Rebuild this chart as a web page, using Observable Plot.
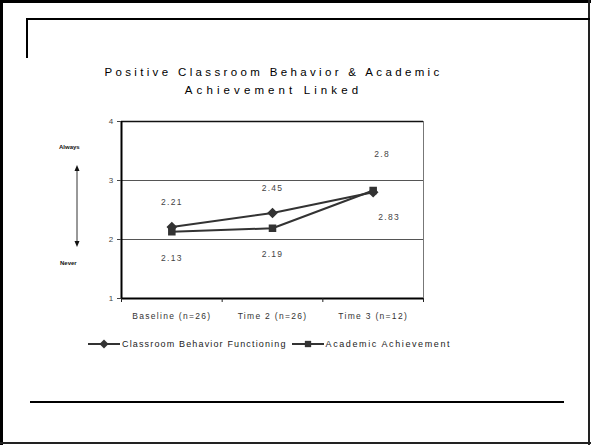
<!DOCTYPE html>
<html><head><meta charset="utf-8">
<script src="https://cdn.jsdelivr.net/npm/d3@7"></script>
<script src="https://cdn.jsdelivr.net/npm/@observablehq/plot@0.6"></script>
<style>
body{margin:0;width:591px;height:445px;position:relative;overflow:hidden;background:#fff;font-family:"Liberation Sans Narrow","Liberation Sans",Arial,sans-serif;}
.abs{position:absolute;}
#chart{position:absolute;left:0;top:0;}
#chart svg text{letter-spacing:1.3px;}
#title{left:0;width:547px;top:63px;text-align:center;font-size:11.5px;letter-spacing:3.35px;line-height:18px;color:#000;}
#title .l2{letter-spacing:4.1px;}
.side{font-family:"Liberation Sans",Arial,sans-serif;font-weight:bold;font-size:6px;color:#111;}
#legend{left:88px;top:339px;display:flex;align-items:center;font-size:9px;letter-spacing:1.15px;color:#222;white-space:nowrap;}
#legend .item{display:flex;align-items:center;margin-right:5px;}
#legend .item:nth-child(2) span{letter-spacing:1.6px;}
#legend svg{margin-right:2px;}
</style></head><body>
<div class="abs" style="left:0;top:0;width:591px;height:3px;background:#000"></div>
<div class="abs" style="left:0;top:0;width:3px;height:445px;background:#000"></div>
<div class="abs" style="left:588px;top:0;width:2px;height:445px;background:#222"></div>
<div class="abs" style="left:0;top:442px;width:591px;height:2px;background:#222"></div>
<div class="abs" style="left:26px;top:18px;width:564px;height:2px;background:#000"></div>
<div class="abs" style="left:26px;top:18px;width:2px;height:40px;background:#000"></div>
<div class="abs" style="left:30px;top:401px;width:534px;height:2px;background:#000"></div>
<div id="title" class="abs">Positive Classroom Behavior &amp; Academic<br><span class="l2">Achievement Linked</span></div>
<div class="abs side" style="left:59px;top:144px;">Always</div>
<div class="abs side" style="left:60px;top:260px;">Never</div>
<svg class="abs" style="left:72px;top:164px" width="10" height="84">
  <line x1="5" y1="5" x2="5" y2="79" stroke="#333" stroke-width="1"/>
  <path d="M5,1 L2.5,7 L7.5,7 Z" fill="#111"/>
  <path d="M5,83 L2.5,77 L7.5,77 Z" fill="#111"/>
</svg>
<div id="chart"></div>
<div id="legend" class="abs"></div>
<script>
const categories = ["Baseline (n=26)", "Time 2 (n=26)", "Time 3 (n=12)"];
const seriesNames = ["Classroom Behavior Functioning", "Academic Achievement"];
const behavior = [2.21, 2.45, 2.8];
const academic = [2.13, 2.19, 2.83];
const yTicks = [1, 2, 3, 4];

// rotated-square diamond (as in the original spreadsheet marker)
const diamondSym = {draw(ctx, size) {
  const r = Math.sqrt(size / 2);
  ctx.moveTo(0, -r); ctx.lineTo(r, 0); ctx.lineTo(0, r); ctx.lineTo(-r, 0); ctx.closePath();
}};
const symbols = [diamondSym, d3.symbolSquare];

const rows = categories.flatMap((c, i) => [
  {i, cat: c, series: seriesNames[0], value: behavior[i]},
  {i, cat: c, series: seriesNames[1], value: academic[i]}
]);
const xPos = d => d.i + 0.5;
const lineColor = "#333";
const font = "'Liberation Sans Narrow','Liberation Sans',Arial,sans-serif";

const chart = Plot.plot({
  width: 591, height: 445,
  marginLeft: 121, marginRight: 168, marginTop: 121, marginBottom: 147,
  style: {background: "transparent", fontFamily: font, overflow: "visible"},
  x: {domain: [0, 3], axis: null},
  y: {domain: [1, 4], axis: null},
  symbol: {domain: seriesNames, range: symbols},
  marks: [
    Plot.ruleY([2, 3], {stroke: "#555", strokeWidth: 1}),
    Plot.ruleY([4], {stroke: "#111", strokeWidth: 1.5}),
    Plot.ruleX([3], {stroke: "#777", strokeWidth: 1}),
    Plot.ruleX([0], {stroke: "#000", strokeWidth: 2}),
    Plot.ruleY([1], {stroke: "#000", strokeWidth: 2}),
    Plot.axisY(yTicks, {label: null, tickSize: 4, tickPadding: 3, fontSize: 8, color: "#444", tickFormat: d => String(d)}),
    Plot.axisX([0, 1, 2, 3], {label: null, tickSize: 4, tickFormat: () => "", color: "#222"}),
    Plot.axisX([0.5, 1.5, 2.5], {label: null, tickSize: 0, tickPadding: 14, fontSize: 8.5, color: "#333", tickFormat: d => categories[Math.round(d - 0.5)]}),
    Plot.line(rows, {x: xPos, y: "value", z: "series", stroke: lineColor, strokeWidth: 2}),
    Plot.dot(rows, {x: xPos, y: "value", symbol: "series", fill: lineColor, stroke: lineColor, r: 3.4}),
    Plot.text(rows.filter(d => d.series === seriesNames[0] && d.i < 2), {x: xPos, y: "value", text: d => String(d.value), dy: -25, fontSize: 8.5, fill: "#444"}),
    Plot.text(rows.filter(d => d.series === seriesNames[0] && d.i === 2), {x: xPos, y: "value", text: d => String(d.value), dy: -38, dx: 9, fontSize: 8.5, fill: "#444"}),
    Plot.text(rows.filter(d => d.series === seriesNames[1] && d.i < 2), {x: xPos, y: "value", text: d => String(d.value), dy: 26, fontSize: 8.5, fill: "#444"}),
    Plot.text(rows.filter(d => d.series === seriesNames[1] && d.i === 2), {x: xPos, y: "value", text: d => String(d.value), dy: 27, dx: 16, fontSize: 8.5, fill: "#444"})
  ]
});
document.getElementById("chart").appendChild(chart);

const legend = d3.select("#legend");
seriesNames.forEach((name, k) => {
  const item = legend.append("div").attr("class", "item");
  const s = item.append("svg").attr("width", 32).attr("height", 10);
  s.append("line").attr("x1", 0).attr("x2", 32).attr("y1", 5).attr("y2", 5).attr("stroke", lineColor).attr("stroke-width", 2);
  s.append("path").attr("transform", "translate(16,5)")
    .attr("d", d3.symbol(symbols[k], 40)())
    .attr("fill", lineColor);
  item.append("span").text(name);
});
</script>
</body></html>
